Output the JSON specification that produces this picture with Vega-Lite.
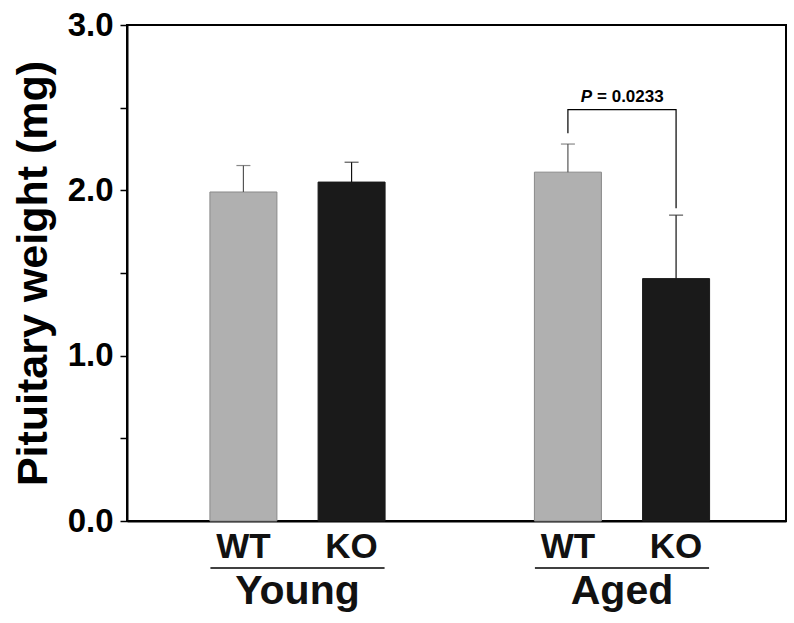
{
  "$schema": "https://vega.github.io/schema/vega-lite/v6.json",
  "autosize": "none",
  "width": 659,
  "height": 496,
  "padding": {"left": 127, "top": 25, "right": 8, "bottom": 102},
  "background": "white",
  "config": {
    "view": {"stroke": "black", "strokeWidth": 2},
    "font": "Liberation Sans"
  },
  "datasets": {
    "bars": [
      {"group": "Young", "genotype": "WT", "pos": 1, "mean": 1.99, "upper": 2.15},
      {"group": "Young", "genotype": "KO", "pos": 2, "mean": 2.05, "upper": 2.17},
      {"group": "Aged", "genotype": "WT", "pos": 4, "mean": 2.11, "upper": 2.28},
      {"group": "Aged", "genotype": "KO", "pos": 5, "mean": 1.466, "upper": 1.85}
    ],
    "bracket": [
      {"k": 1, "x": 4, "y": 2.345},
      {"k": 2, "x": 4, "y": 2.488},
      {"k": 3, "x": 5, "y": 2.488},
      {"k": 4, "x": 5, "y": 1.891}
    ],
    "groups": [
      {"group": "Young", "center": 1.5, "x1": 0.695, "x2": 2.305},
      {"group": "Aged", "center": 4.5, "x1": 3.695, "x2": 5.305}
    ],
    "ptext": [
      {"x": 4.246, "y": 2.536, "p": "P", "rest": "= 0.0233"}
    ]
  },
  "resolve": {"scale": {"color": "independent", "stroke": "independent"}},
  "layer": [
    {
      "data": {"name": "bars"},
      "mark": {"type": "bar", "size": 67, "strokeWidth": 1},
      "encoding": {
        "x": {
          "field": "pos", "type": "quantitative",
          "scale": {"domain": [-0.03, 5.97], "nice": false, "zero": false},
          "axis": {"title": null, "labels": false, "ticks": false, "grid": false, "domainColor": "black", "domainWidth": 2}
        },
        "y": {
          "field": "mean", "type": "quantitative",
          "scale": {"domain": [0, 3], "nice": false},
          "axis": {
            "title": "Pituitary weight (mg)",
            "titleFontSize": 43, "titleFontWeight": "bold", "titleColor": "black", "titlePadding": 12,
            "values": [0, 0.5, 1, 1.5, 2, 2.5, 3],
            "labelExpr": "datum.value % 1 === 0 ? format(datum.value, '.1f') : ''",
            "labelFontSize": 33, "labelFontWeight": "bold", "labelColor": "black", "labelPadding": 7,
            "tickSize": 7, "tickWidth": 1.5, "tickColor": "black",
            "domainColor": "black", "domainWidth": 2, "grid": false
          }
        },
        "fill": {
          "field": "genotype", "type": "nominal",
          "scale": {"domain": ["WT", "KO"], "range": ["#b0b0b0", "#1a1a1a"]},
          "legend": null
        },
        "stroke": {
          "field": "genotype", "type": "nominal",
          "scale": {"domain": ["WT", "KO"], "range": ["#8a8a8a", "#1a1a1a"]},
          "legend": null
        }
      }
    },
    {
      "data": {"name": "bars"},
      "mark": {"type": "rule", "strokeWidth": 1.2},
      "encoding": {
        "x": {"field": "pos", "type": "quantitative"},
        "y": {"field": "mean", "type": "quantitative"},
        "y2": {"field": "upper"},
        "color": {"field": "genotype", "type": "nominal", "scale": {"domain": ["WT", "KO"], "range": ["#555555", "#111111"]}, "legend": null}
      }
    },
    {
      "data": {"name": "bars"},
      "mark": {"type": "tick", "orient": "horizontal", "size": 14, "thickness": 1.2},
      "encoding": {
        "x": {"field": "pos", "type": "quantitative"},
        "y": {"field": "upper", "type": "quantitative"},
        "color": {"field": "genotype", "type": "nominal", "scale": {"domain": ["WT", "KO"], "range": ["#555555", "#111111"]}, "legend": null}
      }
    },
    {
      "data": {"name": "bracket"},
      "mark": {"type": "line", "color": "black", "strokeWidth": 1.2, "interpolate": "linear"},
      "encoding": {
        "x": {"field": "x", "type": "quantitative"},
        "y": {"field": "y", "type": "quantitative"},
        "order": {"field": "k", "type": "quantitative"}
      }
    },
    {
      "data": {"name": "ptext"},
      "mark": {"type": "text", "align": "right", "baseline": "alphabetic", "fontSize": 17, "fontWeight": "bold", "fontStyle": "italic", "dx": -2.5, "color": "black"},
      "encoding": {
        "x": {"field": "x", "type": "quantitative"},
        "y": {"field": "y", "type": "quantitative"},
        "text": {"field": "p"}
      }
    },
    {
      "data": {"name": "ptext"},
      "mark": {"type": "text", "align": "left", "baseline": "alphabetic", "fontSize": 17, "fontWeight": "bold", "dx": 2.5, "color": "black"},
      "encoding": {
        "x": {"field": "x", "type": "quantitative"},
        "y": {"field": "y", "type": "quantitative"},
        "text": {"field": "rest"}
      }
    },
    {
      "data": {"name": "bars"},
      "mark": {"type": "text", "align": "center", "baseline": "alphabetic", "fontSize": 35, "fontWeight": "bold", "color": "#111111"},
      "encoding": {
        "x": {"field": "pos", "type": "quantitative"},
        "y": {"datum": -0.225, "type": "quantitative"},
        "text": {"field": "genotype"}
      }
    },
    {
      "data": {"name": "groups"},
      "mark": {"type": "rule", "color": "black", "strokeWidth": 1.5},
      "encoding": {
        "x": {"field": "x1", "type": "quantitative"},
        "x2": {"field": "x2"},
        "y": {"datum": -0.284, "type": "quantitative"}
      }
    },
    {
      "data": {"name": "groups"},
      "mark": {"type": "text", "align": "center", "baseline": "alphabetic", "fontSize": 41, "fontWeight": "bold", "color": "#111111"},
      "encoding": {
        "x": {"field": "center", "type": "quantitative"},
        "y": {"datum": -0.5, "type": "quantitative"},
        "text": {"field": "group"}
      }
    }
  ]
}
